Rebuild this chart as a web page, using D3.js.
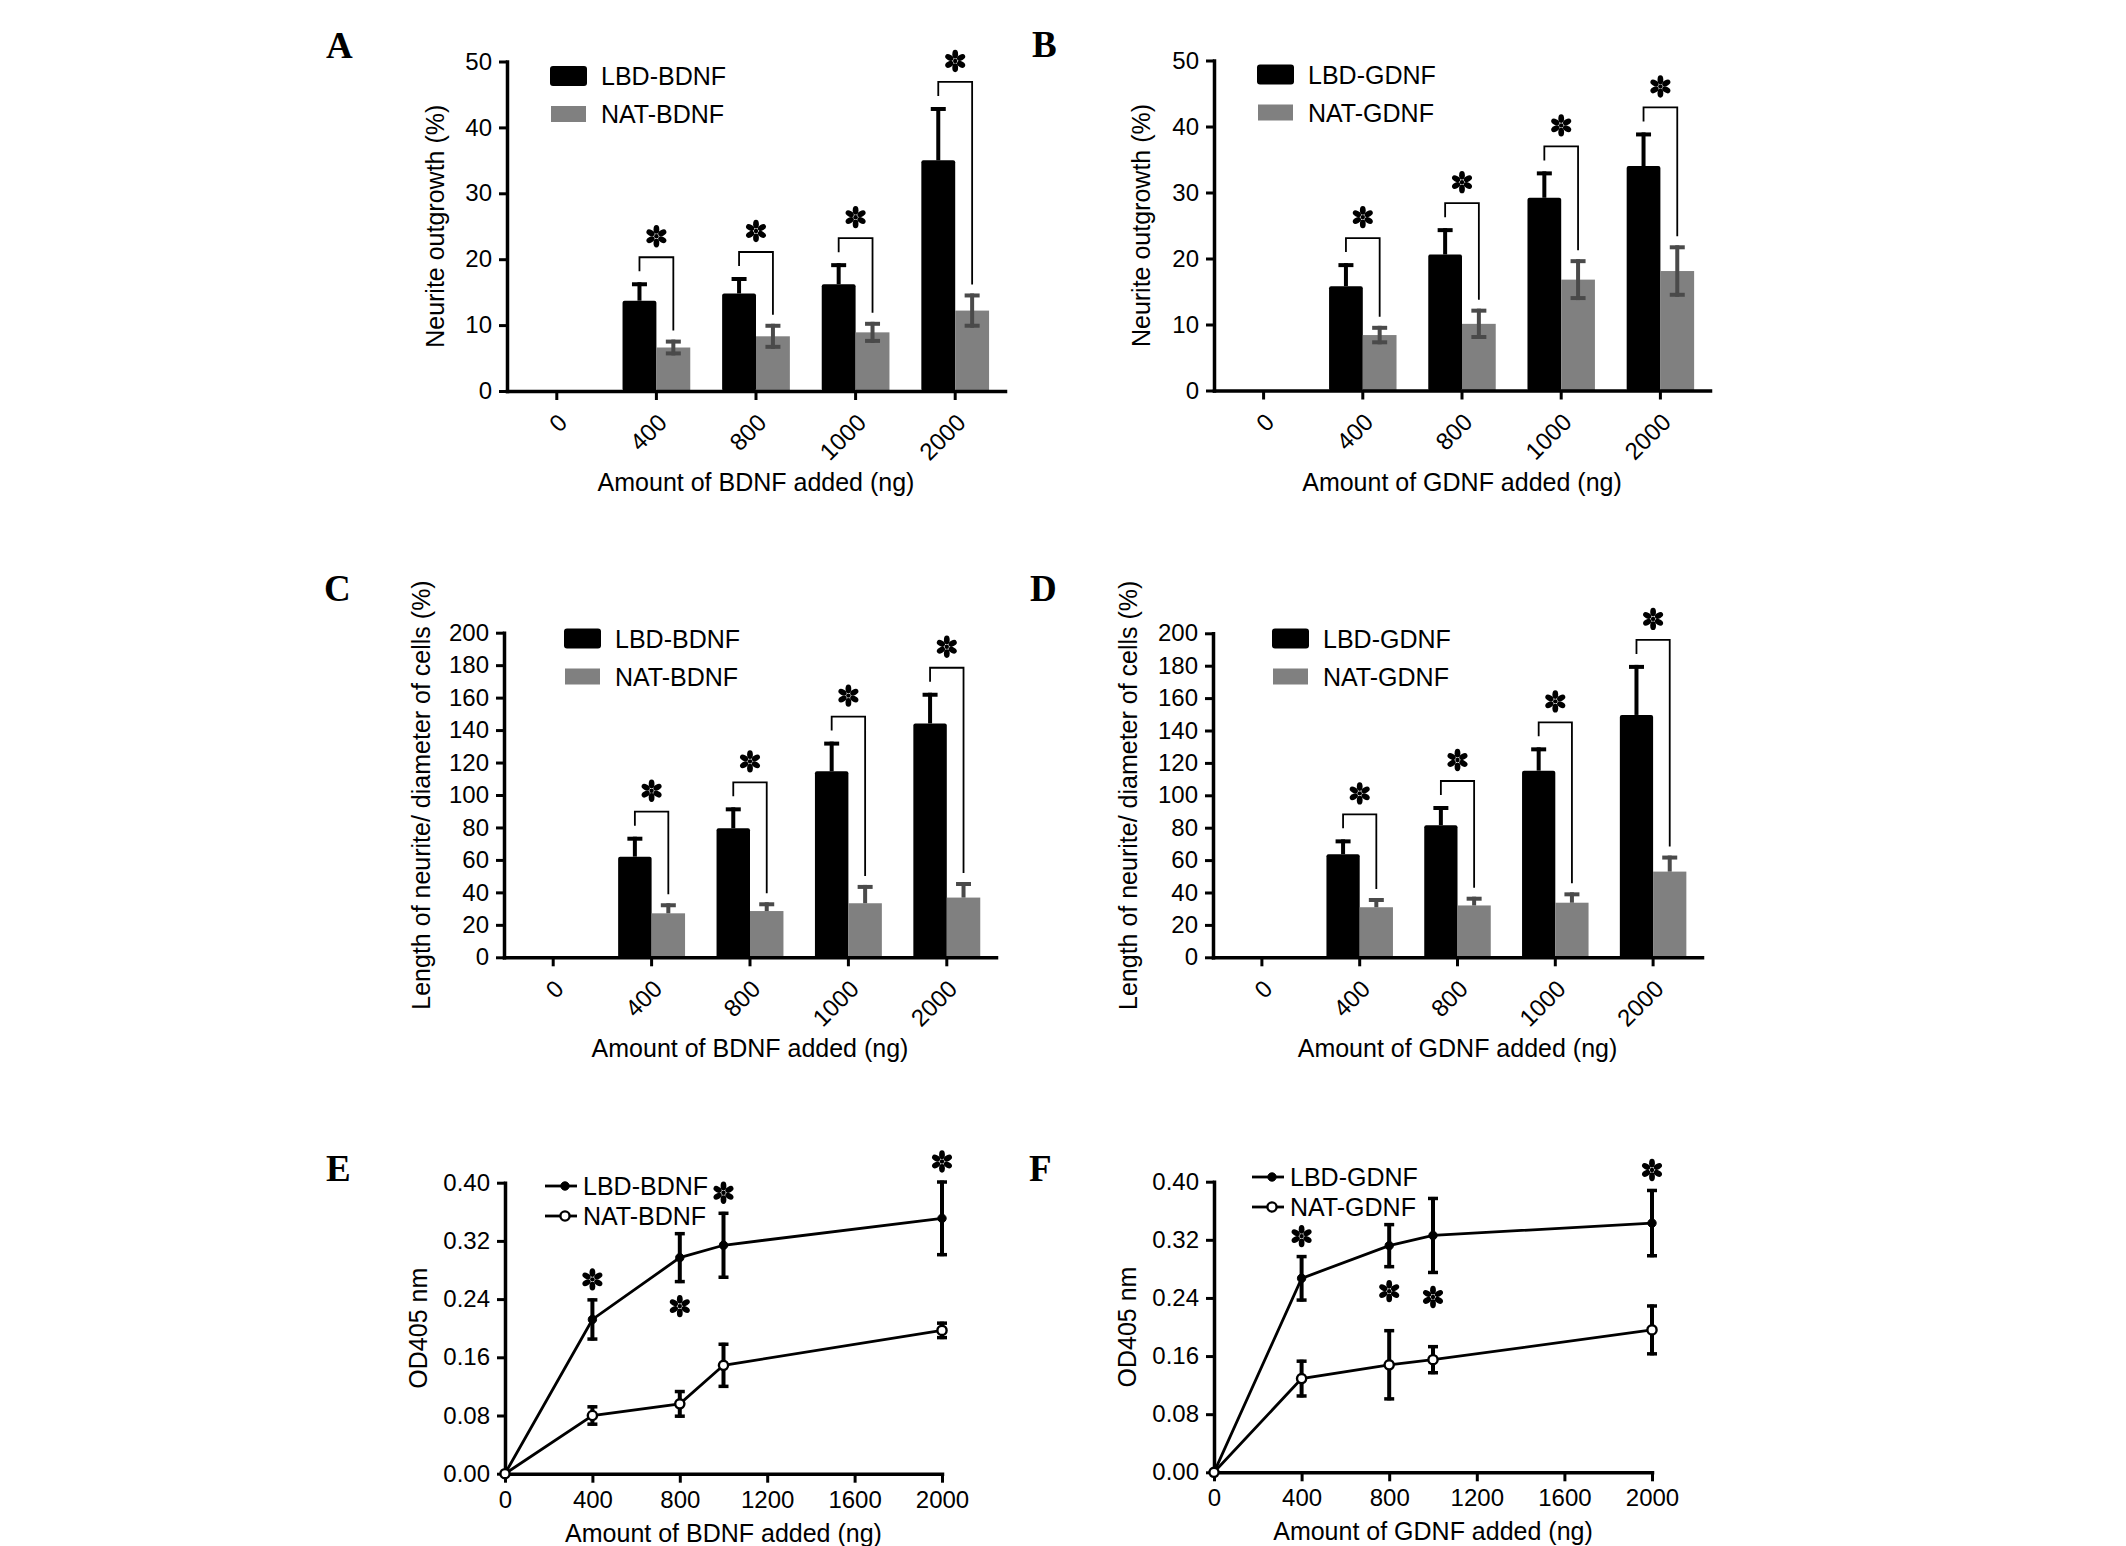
<!DOCTYPE html>
<html lang="en">
<head>
  <meta charset="UTF-8">
  <title>Neurite outgrowth and OD405</title>
  <style>
    body {
      margin: 0;
      background-color: white;
    }

    text {
      font-family: "Liberation Sans", Arial, Helvetica, sans-serif;
      fill: black;
    }

    .panel-label {
      font-family: "Liberation Serif", "Times New Roman", serif;
      font-weight: bold;
      font-size: 37px;
    }

    .legend-text,
    .axis-title {
      font-size: 25px;
    }
  </style>
</head>
<body>
  <svg id="chart" width="2126" height="1546"></svg>

  <script src="https://d3js.org/d3.v7.min.js"></script>
  <script>
    // categories / ticks
    var barDoses = ["0", "400", "800", "1000", "2000"];
    var lineDoses = [0, 400, 800, 1000, 2000];
    var lineTicksX = [0, 400, 800, 1200, 1600, 2000];
    var outgrowthTicks = [0, 10, 20, 30, 40, 50];
    var lengthTicks = [0, 20, 40, 60, 80, 100, 120, 140, 160, 180, 200];
    var odTicks = [0, 0.08, 0.16, 0.24, 0.32, 0.40];

    // A - neurite outgrowth, BDNF
    var outgrowthLbdBdnf = [0, 13.7, 14.8, 16.2, 35.0];
    var outgrowthLbdBdnfSem = [0, 2.8, 2.5, 3.2, 8.1];
    var outgrowthNatBdnf = [0, 6.6, 8.3, 8.9, 12.2];
    var outgrowthNatBdnfSem = [0, 1.2, 1.9, 1.6, 2.6];

    // B - neurite outgrowth, GDNF
    var outgrowthLbdGdnf = [0, 15.8, 20.6, 29.2, 34.0];
    var outgrowthLbdGdnfSem = [0, 3.5, 4.0, 4.0, 5.1];
    var outgrowthNatGdnf = [0, 8.4, 10.1, 16.8, 18.1];
    var outgrowthNatGdnfSem = [0, 1.4, 2.3, 3.1, 3.9];

    // C - neurite length / cell diameter, BDNF
    var lengthLbdBdnf = [0, 62.0, 79.5, 114.6, 144.1];
    var lengthLbdBdnfSem = [0, 12.3, 12.9, 18.3, 18.9];
    var lengthNatBdnf = [0, 27.1, 28.5, 33.3, 36.8];
    var lengthNatBdnfSem = [0, 6.2, 5.4, 11.3, 9.6];

    // D - neurite length / cell diameter, GDNF
    var lengthLbdGdnf = [0, 63.6, 81.5, 115.2, 149.6];
    var lengthLbdGdnfSem = [0, 9.2, 11.9, 14.4, 30.9];
    var lengthNatGdnf = [0, 30.9, 32.0, 33.7, 52.9];
    var lengthNatGdnfSem = [0, 5.7, 5.4, 6.4, 9.9];

    // E - OD405, BDNF
    var odLbdBdnf = [0, 0.212, 0.297, 0.314, 0.351];
    var odLbdBdnfSem = [0, 0.029, 0.035, 0.046, 0.052];
    var odNatBdnf = [0, 0.080, 0.096, 0.149, 0.197];
    var odNatBdnfSem = [0, 0.014, 0.019, 0.031, 0.012];
    var odBdnfStars = ["", "above", "below", "above", "above"];

    // F - OD405, GDNF
    var odLbdGdnf = [0, 0.267, 0.312, 0.326, 0.343];
    var odLbdGdnfSem = [0, 0.032, 0.031, 0.053, 0.047];
    var odNatGdnf = [0, 0.129, 0.148, 0.155, 0.196];
    var odNatGdnfSem = [0, 0.026, 0.049, 0.020, 0.035];
    var odGdnfStars = ["", "above", "below", "below", "above"];

    var GRAY = "#808080";
    var DARKGRAY = "#4a4a4a";

    var svg = d3.select("#chart");

    function styleAxis(sel) {
      sel.attr("font-size", null).attr("font-family", null);
      sel.select(".domain").attr("stroke-width", 3.5).attr("stroke-linecap", "square");
      sel.selectAll(".tick line").attr("stroke-width", 3);
      sel.selectAll(".tick text").attr("font-size", 24).attr("fill", "#000");
    }

    // six petal asterisk used for significance marks
    function drawStar(g, cx, cy) {
      var s = g.append("g").attr("transform", "translate(" + cx + "," + cy + ")");
      d3.range(6).forEach(function (k) {
        s.append("ellipse")
          .attr("cx", 0).attr("cy", -6.8)
          .attr("rx", 2.9).attr("ry", 4.4)
          .attr("transform", "rotate(" + (k * 60) + ")")
          .attr("fill", "#000");
      });
      s.append("circle").attr("r", 2.2).attr("fill", "#000");
    }

    function panelLabel(txt, pos) {
      svg.append("text").attr("class", "panel-label")
        .attr("x", pos[0]).attr("y", pos[1]).text(txt);
    }

    function drawBarPanel(p) {
      var g = svg.append("g");
      var x = d3.scaleBand().domain(barDoses).range([p.x0, p.x1])
        .paddingInner(0.32).paddingOuter(0.16);
      var sub = d3.scaleBand().domain(["lbd", "nat"]).range([0, x.bandwidth()]);
      var y = d3.scaleLinear().domain([0, p.ticks[p.ticks.length - 1]]).range([p.yBot, p.yTop]);

      var rows = barDoses.map(function (d, i) {
        return { dose: d, lbd: p.lbd[i], lbdSem: p.lbdSem[i], nat: p.nat[i], natSem: p.natSem[i] };
      }).filter(function (r) { return r.lbd > 0; });

      function cx(r, k) { return x(r.dose) + sub(k) + sub.bandwidth() / 2; }

      g.selectAll(".lbd").data(rows).enter().append("rect")
        .attr("x", function (r) { return x(r.dose) + sub("lbd"); })
        .attr("y", function (r) { return y(r.lbd); })
        .attr("width", sub.bandwidth())
        .attr("height", function (r) { return p.yBot - y(r.lbd); })
        .attr("rx", 2)
        .attr("fill", "#000");

      g.selectAll(".nat").data(rows).enter().append("rect")
        .attr("x", function (r) { return x(r.dose) + sub("nat"); })
        .attr("y", function (r) { return y(r.nat); })
        .attr("width", sub.bandwidth())
        .attr("height", function (r) { return p.yBot - y(r.nat); })
        .attr("fill", GRAY);

      rows.forEach(function (r) {
        // black bars: upper error only
        var xl = cx(r, "lbd");
        var top = y(r.lbd + r.lbdSem);
        g.append("line").attr("x1", xl).attr("x2", xl).attr("y1", y(r.lbd)).attr("y2", top)
          .attr("stroke", "#000").attr("stroke-width", 4);
        g.append("line").attr("x1", xl - 7.5).attr("x2", xl + 7.5).attr("y1", top + 2).attr("y2", top + 2)
          .attr("stroke", "#000").attr("stroke-width", 4);

        var xr = cx(r, "nat");
        var ntop = y(r.nat + r.natSem);
        var nbot = p.natBoth ? y(r.nat - r.natSem) : y(r.nat);
        g.append("line").attr("x1", xr).attr("x2", xr).attr("y1", nbot).attr("y2", ntop)
          .attr("stroke", DARKGRAY).attr("stroke-width", 4);
        g.append("line").attr("x1", xr - 7.5).attr("x2", xr + 7.5).attr("y1", ntop + 2).attr("y2", ntop + 2)
          .attr("stroke", DARKGRAY).attr("stroke-width", 4);
        if (p.natBoth) {
          g.append("line").attr("x1", xr - 7.5).attr("x2", xr + 7.5).attr("y1", nbot - 2).attr("y2", nbot - 2)
            .attr("stroke", DARKGRAY).attr("stroke-width", 4);
        }

        // significance bracket
        var bt = top - 25;
        g.append("path")
          .attr("d", "M" + xl + "," + (bt + 14) + "V" + bt + "H" + xr + "V" + (ntop - 9))
          .attr("fill", "none").attr("stroke", "#000").attr("stroke-width", 1.8);
        drawStar(g, (xl + xr) / 2, bt - 21);
      });

      var ya = g.append("g").attr("transform", "translate(" + p.x0 + ",0)")
        .call(d3.axisLeft(y).tickValues(p.ticks).tickSize(8).tickPadding(7).tickSizeOuter(0));
      styleAxis(ya);

      var xa = g.append("g").attr("transform", "translate(0," + p.yBot + ")")
        .call(d3.axisBottom(x).tickSize(9).tickSizeOuter(0));
      styleAxis(xa);
      xa.selectAll(".tick text")
        .attr("x", 0).attr("y", 0).attr("dy", 0)
        .attr("text-anchor", "end")
        .attr("transform", "translate(12,33) rotate(-45)");

      // legend
      g.append("rect").attr("x", p.legendX).attr("y", p.legendY[0] - 10)
        .attr("width", 37).attr("height", 20).attr("rx", 3).attr("fill", "#000");
      g.append("rect").attr("x", p.legendX + 1).attr("y", p.legendY[1] - 8)
        .attr("width", 35).attr("height", 16).attr("fill", GRAY);
      p.names.forEach(function (n, i) {
        g.append("text").attr("class", "legend-text")
          .attr("x", p.legendX + 51).attr("y", p.legendY[i])
          .attr("dominant-baseline", "central").text(n);
      });

      g.append("text").attr("class", "axis-title")
        .attr("text-anchor", "middle")
        .attr("transform", "translate(" + (p.x0 - p.yTitleOff) + "," + ((p.yTop + p.yBot) / 2) + ") rotate(-90)")
        .text(p.yTitle);
      g.append("text").attr("class", "axis-title")
        .attr("text-anchor", "middle")
        .attr("x", (p.x0 + p.x1) / 2).attr("y", p.yBot + 100)
        .text(p.xTitle);

      panelLabel(p.label, p.labelPos);
    }

    function drawLinePanel(p) {
      var g = svg.append("g");
      var x = d3.scaleLinear().domain([0, 2000]).range([p.x0, p.x1]);
      var y = d3.scaleLinear().domain([0, 0.4]).range([p.yBot, p.yTop]);

      var ya = g.append("g").attr("transform", "translate(" + p.x0 + ",0)")
        .call(d3.axisLeft(y).tickValues(odTicks).tickFormat(d3.format(".2f"))
          .tickSize(8).tickPadding(7).tickSizeOuter(0));
      styleAxis(ya);
      var xa = g.append("g").attr("transform", "translate(0," + p.yBot + ")")
        .call(d3.axisBottom(x).tickValues(lineTicksX).tickFormat(d3.format("d"))
          .tickSize(9).tickPadding(8).tickSizeOuter(0));
      styleAxis(xa);

      var series = [
        { v: p.lbd, s: p.lbdSem, open: false },
        { v: p.nat, s: p.natSem, open: true }
      ];

      var line = d3.line()
        .x(function (d) { return x(d.dose); })
        .y(function (d) { return y(d.v); });

      series.forEach(function (se) {
        var pts = lineDoses.map(function (d, i) { return { dose: d, v: se.v[i], s: se.s[i] }; });
        g.append("path").datum(pts).attr("d", line)
          .attr("fill", "none").attr("stroke", "#000").attr("stroke-width", 2.8);

        pts.filter(function (d) { return d.s > 0; }).forEach(function (d) {
          var px = x(d.dose);
          var t = y(d.v + d.s), b = y(d.v - d.s);
          g.append("line").attr("x1", px).attr("x2", px).attr("y1", b).attr("y2", t)
            .attr("stroke", "#000").attr("stroke-width", 4);
          [t + 1.5, b - 1.5].forEach(function (cy) {
            g.append("line").attr("x1", px - 5).attr("x2", px + 5).attr("y1", cy).attr("y2", cy)
              .attr("stroke", "#000").attr("stroke-width", 3.5);
          });
        });

        g.selectAll(null).data(pts).enter().append("circle")
          .attr("cx", function (d) { return x(d.dose); })
          .attr("cy", function (d) { return y(d.v); })
          .attr("r", se.open ? 4.6 : 4.2)
          .attr("fill", se.open ? "#fff" : "#000")
          .attr("stroke", "#000").attr("stroke-width", se.open ? 2.4 : 1);
      });

      lineDoses.forEach(function (d, i) {
        if (p.stars[i] === "above") {
          drawStar(g, x(d), y(p.lbd[i] + p.lbdSem[i]) - 19);
        } else if (p.stars[i] === "below") {
          drawStar(g, x(d), y(p.lbd[i] - p.lbdSem[i]) + 23);
        }
      });

      // legend
      p.names.forEach(function (n, i) {
        var ly = p.legendY[i];
        g.append("line").attr("x1", p.legendX).attr("x2", p.legendX + 32).attr("y1", ly).attr("y2", ly)
          .attr("stroke", "#000").attr("stroke-width", 2.8);
        g.append("circle").attr("cx", p.legendX + 20).attr("cy", ly)
          .attr("r", i === 0 ? 4.2 : 4.6)
          .attr("fill", i === 0 ? "#000" : "#fff")
          .attr("stroke", "#000").attr("stroke-width", i === 0 ? 1 : 2.4);
        g.append("text").attr("class", "legend-text")
          .attr("x", p.legendX + 38).attr("y", ly)
          .attr("dominant-baseline", "central").text(n);
      });

      g.append("text").attr("class", "axis-title")
        .attr("text-anchor", "middle")
        .attr("transform", "translate(" + (p.x0 - 78) + "," + ((p.yTop + p.yBot) / 2) + ") rotate(-90)")
        .text("OD405 nm");
      g.append("text").attr("class", "axis-title")
        .attr("text-anchor", "middle")
        .attr("x", (p.x0 + p.x1) / 2).attr("y", p.yBot + 68)
        .text(p.xTitle);

      panelLabel(p.label, p.labelPos);
    }

    drawBarPanel({
      label: "A", labelPos: [326, 58],
      x0: 507, x1: 1005, yTop: 61.5, yBot: 391,
      ticks: outgrowthTicks,
      lbd: outgrowthLbdBdnf, lbdSem: outgrowthLbdBdnfSem,
      nat: outgrowthNatBdnf, natSem: outgrowthNatBdnfSem, natBoth: true,
      names: ["LBD-BDNF", "NAT-BDNF"], legendX: 550, legendY: [76, 114],
      yTitle: "Neurite outgrowth (%)", yTitleOff: 63,
      xTitle: "Amount of BDNF added (ng)"
    });

    drawBarPanel({
      label: "B", labelPos: [1032, 57],
      x0: 1214, x1: 1710, yTop: 60.5, yBot: 390.5,
      ticks: outgrowthTicks,
      lbd: outgrowthLbdGdnf, lbdSem: outgrowthLbdGdnfSem,
      nat: outgrowthNatGdnf, natSem: outgrowthNatGdnfSem, natBoth: true,
      names: ["LBD-GDNF", "NAT-GDNF"], legendX: 1257, legendY: [74.5, 112.5],
      yTitle: "Neurite outgrowth (%)", yTitleOff: 64,
      xTitle: "Amount of GDNF added (ng)"
    });

    drawBarPanel({
      label: "C", labelPos: [324, 601],
      x0: 504, x1: 996, yTop: 632.7, yBot: 957.3,
      ticks: lengthTicks,
      lbd: lengthLbdBdnf, lbdSem: lengthLbdBdnfSem,
      nat: lengthNatBdnf, natSem: lengthNatBdnfSem, natBoth: false,
      names: ["LBD-BDNF", "NAT-BDNF"], legendX: 564, legendY: [638.5, 676.5],
      yTitle: "Length of neurite/ diameter of cells (%)", yTitleOff: 74,
      xTitle: "Amount of BDNF added (ng)"
    });

    drawBarPanel({
      label: "D", labelPos: [1030, 601],
      x0: 1213, x1: 1702, yTop: 633.3, yBot: 957.3,
      ticks: lengthTicks,
      lbd: lengthLbdGdnf, lbdSem: lengthLbdGdnfSem,
      nat: lengthNatGdnf, natSem: lengthNatGdnfSem, natBoth: false,
      names: ["LBD-GDNF", "NAT-GDNF"], legendX: 1272, legendY: [638.5, 676.5],
      yTitle: "Length of neurite/ diameter of cells (%)", yTitleOff: 76,
      xTitle: "Amount of GDNF added (ng)"
    });

    drawLinePanel({
      label: "E", labelPos: [326, 1181],
      x0: 505, x1: 942, yTop: 1182.7, yBot: 1473.7,
      lbd: odLbdBdnf, lbdSem: odLbdBdnfSem,
      nat: odNatBdnf, natSem: odNatBdnfSem,
      stars: odBdnfStars,
      names: ["LBD-BDNF", "NAT-BDNF"], legendX: 545, legendY: [1186, 1216],
      xTitle: "Amount of BDNF added (ng)"
    });

    drawLinePanel({
      label: "F", labelPos: [1029, 1181],
      x0: 1214, x1: 1652, yTop: 1181.7, yBot: 1472.3,
      lbd: odLbdGdnf, lbdSem: odLbdGdnfSem,
      nat: odNatGdnf, natSem: odNatGdnfSem,
      stars: odGdnfStars,
      names: ["LBD-GDNF", "NAT-GDNF"], legendX: 1252, legendY: [1177, 1207],
      xTitle: "Amount of GDNF added (ng)"
    });
  </script>
</body>
</html>
